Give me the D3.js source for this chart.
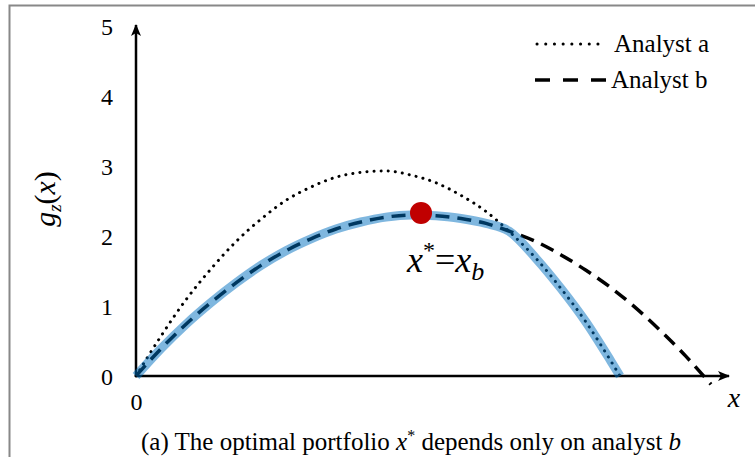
<!DOCTYPE html>
<html>
<head>
<meta charset="utf-8">
<script src="https://cdn.jsdelivr.net/npm/d3@7"></script>
<style>
  body { margin: 0; background: #fff; }
  svg { display: block; }
  svg text { font-family: 'Liberation Serif', 'Times New Roman', serif; }
</style>
</head>
<body>
<div id="chart"></div>
<script>
// x positions (arbitrary units)
const xs = [0, 0.25, 0.5, 0.75, 1, 1.25, 1.5, 1.75, 2, 2.25, 2.5, 2.75, 3, 3.25, 3.5, 3.75, 4, 4.25, 4.5, 4.75]
// Analyst a, dotted curve (hits zero at x = 4.84)
const analystA = [0, 0.57, 1.09, 1.53, 1.92, 2.24, 2.51, 2.70, 2.84, 2.91, 2.93, 2.87, 2.76, 2.58, 2.35, 2.04, 1.68, 1.25, 0.77, 0.21]
const analystAEnd = { x: 4.84, y: 0 }
// Analyst b, dashed curve
const xsB = [0, 0.25, 0.5, 0.75, 1, 1.25, 1.5, 1.75, 2, 2.25, 2.5, 2.75, 3, 3.25, 3.5, 3.75, 4, 4.25, 4.5, 4.75, 5, 5.25, 5.5, 5.75]
const analystB = [0, 0.39, 0.74, 1.05, 1.33, 1.58, 1.79, 1.96, 2.10, 2.20, 2.27, 2.30, 2.29, 2.25, 2.18, 2.06, 1.92, 1.73, 1.51, 1.26, 0.97, 0.64, 0.28, -0.12]
// highlighted (blue) curve = lower of the two
const xsOpt = [0, 0.25, 0.5, 0.75, 1, 1.25, 1.5, 1.75, 2, 2.25, 2.5, 2.75, 3, 3.25, 3.5, 3.73, 4, 4.25, 4.5, 4.75, 4.84]
const optimal = [0, 0.39, 0.74, 1.05, 1.33, 1.58, 1.79, 1.96, 2.10, 2.20, 2.27, 2.30, 2.29, 2.25, 2.18, 2.07, 1.68, 1.25, 0.77, 0.21, 0]
const optimum = { x: 2.85, y: 2.33 }
const yTicks = [0, 1, 2, 3, 4, 5]

const width = 755
const height = 457

const svg = d3.select('#chart').append('svg')
  .attr('width', width)
  .attr('height', height)

// grey frame (only left/top edges visible)
svg.append('rect')
  .attr('x', 9.5).attr('y', 5.5)
  .attr('width', 800).attr('height', 500)
  .attr('fill', 'none')
  .attr('stroke', '#888')
  .attr('stroke-width', 2)

const xScale = d3.scaleLinear().domain([0, 6]).range([136, 736])
const yScale = d3.scaleLinear().domain([0, 5]).range([376, 26])

// arrow marker
svg.append('defs').append('marker')
  .attr('id', 'arrow')
  .attr('viewBox', '0 0 12 10')
  .attr('refX', 11).attr('refY', 5)
  .attr('markerWidth', 12).attr('markerHeight', 10)
  .attr('markerUnits', 'userSpaceOnUse')
  .attr('orient', 'auto')
  .append('path')
  .attr('d', 'M0,0 L12,5 L0,10 L3,5 Z')
  .attr('fill', '#000')

// y axis labels
const yAxis = d3.axisLeft(yScale).tickValues(yTicks).tickSize(0).tickPadding(23).tickFormat(d3.format('d'))
const gy = svg.append('g')
  .attr('transform', `translate(${xScale(0)},0)`)
  .call(yAxis)
gy.select('.domain').remove()
gy.attr('font-family', null).attr('font-size', null)
gy.selectAll('text').style('font-size', '24px').attr('dy', '0.35em')

// x axis label "0"
const xAxis = d3.axisBottom(xScale).tickValues([0]).tickSize(0).tickPadding(17).tickFormat(d3.format('d'))
const gx = svg.append('g')
  .attr('transform', `translate(0,${yScale(0)})`)
  .call(xAxis)
gx.select('.domain').remove()
gx.attr('font-family', null).attr('font-size', null)
gx.selectAll('text').style('font-size', '24px')

// axis lines with arrows
svg.append('line')
  .attr('x1', xScale(0)).attr('y1', yScale(0))
  .attr('x2', xScale(0)).attr('y2', 25)
  .attr('stroke', '#000').attr('stroke-width', 2.5)
  .attr('marker-end', 'url(#arrow)')
svg.append('line')
  .attr('x1', xScale(0)).attr('y1', yScale(0))
  .attr('x2', 729).attr('y2', yScale(0))
  .attr('stroke', '#000').attr('stroke-width', 2.5)
  .attr('marker-end', 'url(#arrow)')

const line = d3.line()
  .x(d => xScale(d[0]))
  .y(d => yScale(d[1]))
  .curve(d3.curveMonotoneX)

const aPoints = xs.map((x, i) => [x, analystA[i]]).concat([[analystAEnd.x, analystAEnd.y]])
const bPoints = xsB.map((x, i) => [x, analystB[i]])
const optPoints = xsOpt.map((x, i) => [x, optimal[i]])

// analyst a (dotted)
svg.append('path')
  .attr('d', line(aPoints))
  .attr('fill', 'none')
  .attr('stroke', '#000')
  .attr('stroke-width', 3)
  .attr('stroke-linecap', 'round')
  .attr('stroke-dasharray', '0.1 7')

// analyst b (dashed)
svg.append('path')
  .attr('d', line(bPoints))
  .attr('fill', 'none')
  .attr('stroke', '#000')
  .attr('stroke-width', 3.5)
  .attr('stroke-dasharray', '14 8')

// optimal envelope (translucent blue, on top)
svg.append('path')
  .attr('d', line(optPoints))
  .attr('fill', 'none')
  .attr('stroke', '#0070c0')
  .attr('stroke-opacity', 0.5)
  .attr('stroke-width', 9)
  .attr('stroke-linejoin', 'round')

// optimum dot
svg.append('circle')
  .attr('cx', xScale(optimum.x))
  .attr('cy', yScale(optimum.y))
  .attr('r', 11)
  .attr('fill', '#c00000')

// annotation x* = x_b
const ann = svg.append('text')
  .attr('x', 407).attr('y', 272)
  .style('font-size', '36px')
ann.append('tspan').style('font-style', 'italic').text('x')
ann.append('tspan').attr('dy', -14).style('font-size', '24px').text('*')
ann.append('tspan').attr('dy', 14).text('=')
ann.append('tspan').style('font-style', 'italic').text('x')
ann.append('tspan').attr('dy', 8).style('font-size', '26px').style('font-style', 'italic').text('b')

// y label g_z(x)
const yl = svg.append('text')
  .attr('transform', 'translate(55,199) rotate(-90)')
  .attr('text-anchor', 'middle')
  .style('font-size', '30px')
yl.append('tspan').style('font-style', 'italic').text('g')
yl.append('tspan').attr('dy', 6).style('font-size', '19px').style('font-style', 'italic').text('z')
yl.append('tspan').attr('dy', -6).text('(')
yl.append('tspan').style('font-style', 'italic').text('x')
yl.append('tspan').text(')')

// x label
svg.append('text')
  .attr('x', 734).attr('y', 407)
  .attr('text-anchor', 'middle')
  .style('font-size', '28px')
  .style('font-style', 'italic')
  .text('x')

// legend
const legend = svg.append('g')
legend.append('line')
  .attr('x1', 537).attr('x2', 598).attr('y1', 44).attr('y2', 44)
  .attr('stroke', '#000').attr('stroke-width', 3)
  .attr('stroke-linecap', 'round')
  .attr('stroke-dasharray', '0.1 8.6')
legend.append('text')
  .attr('x', 614).attr('y', 52)
  .style('font-size', '25px')
  .text('Analyst a')
legend.append('line')
  .attr('x1', 535).attr('x2', 607).attr('y1', 80).attr('y2', 80)
  .attr('stroke', '#000').attr('stroke-width', 3.5)
  .attr('stroke-dasharray', '15 13')
legend.append('text')
  .attr('x', 611).attr('y', 88)
  .style('font-size', '25px')
  .text('Analyst b')

// caption
const cap = svg.append('text')
  .attr('x', 141).attr('y', 450)
  .style('font-size', '25px')
cap.append('tspan').text('(a) The optimal portfolio ')
cap.append('tspan').style('font-style', 'italic').text('x')
cap.append('tspan').attr('dy', -9).style('font-size', '16px').text('*')
cap.append('tspan').attr('dy', 9).text(' depends only on analyst ')
cap.append('tspan').style('font-style', 'italic').text('b')
</script>
</body>
</html>
